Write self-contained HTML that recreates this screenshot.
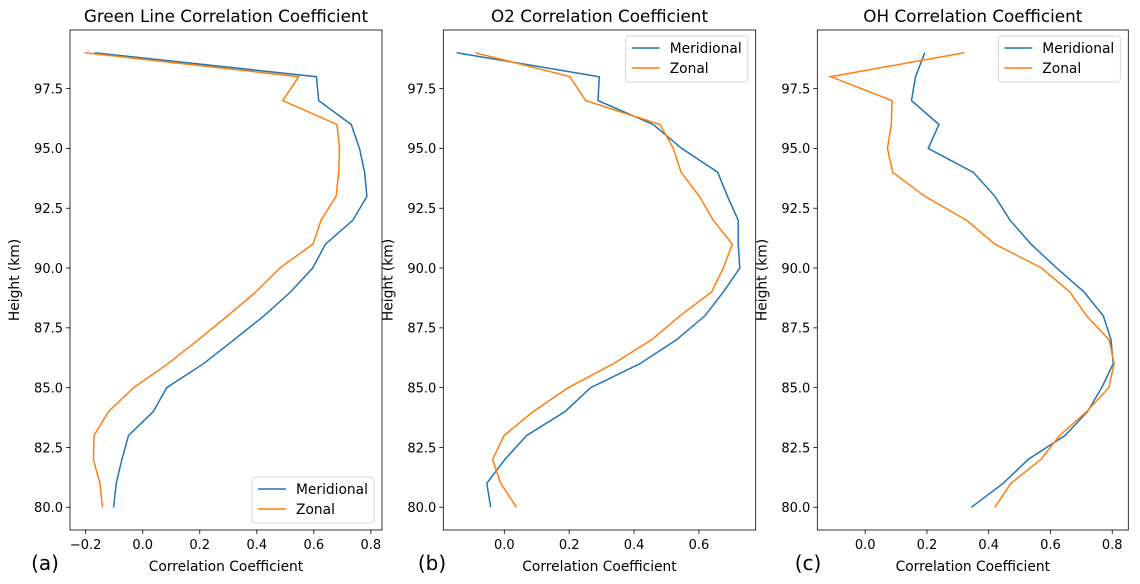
<!DOCTYPE html>
<html><head><meta charset="utf-8"><style>
body{margin:0;background:#fff}
svg{display:block;font-family:"DejaVu Sans","Liberation Sans",sans-serif}
</style></head><body>
<svg id="chart" width="1140" height="584"></svg>
<script>
const heights=[99,98,97,96,95,94,93,92,91,90,89,88,87,86,85,84,83,82,81,80];
const greenMerid=[-0.169,0.609,0.617,0.731,0.760,0.778,0.786,0.737,0.641,0.596,0.518,0.425,0.320,0.213,0.084,0.037,-0.050,-0.073,-0.093,-0.102];
const greenZonal=[-0.203,0.547,0.491,0.681,0.690,0.687,0.678,0.625,0.597,0.481,0.396,0.297,0.195,0.088,-0.032,-0.120,-0.171,-0.173,-0.150,-0.141];
const o2Merid=[-0.147,0.293,0.289,0.459,0.547,0.658,0.688,0.721,0.721,0.726,0.675,0.618,0.531,0.418,0.266,0.187,0.069,0.002,-0.054,-0.042];
const o2Zonal=[-0.090,0.202,0.251,0.480,0.521,0.545,0.601,0.644,0.703,0.675,0.639,0.541,0.454,0.336,0.197,0.089,-0.001,-0.036,-0.011,0.038];
const ohMerid=[0.193,0.163,0.150,0.239,0.204,0.350,0.420,0.469,0.537,0.620,0.709,0.771,0.796,0.803,0.766,0.720,0.647,0.528,0.447,0.344];
const ohZonal=[0.321,-0.112,0.087,0.085,0.072,0.089,0.193,0.328,0.420,0.571,0.663,0.717,0.790,0.806,0.789,0.717,0.630,0.569,0.472,0.420];
const yTicks=[80.0,82.5,85.0,87.5,90.0,92.5,95.0,97.5];
const xTicksA=[-0.2,0.0,0.2,0.4,0.6,0.8];
const xTicksB=[0.0,0.2,0.4,0.6];
const xTicksC=[0.0,0.2,0.4,0.6,0.8];
const titles=["Green Line Correlation Coefficient","O2 Correlation Coefficient","OH Correlation Coefficient"];
const tags=["(a)","(b)","(c)"];

const NS="http://www.w3.org/2000/svg";
const svg=document.getElementById('chart');
function mk(tag,attrs,parent,text){const e=document.createElementNS(NS,tag);for(const k in attrs)e.setAttribute(k,attrs[k]);if(text!==undefined)e.textContent=text;(parent||svg).appendChild(e);return e;}

const panels=[
 {x0:70,x1:382,xmin:-0.255,xmax:0.839,ticks:xTicksA,m:greenMerid,z:greenZonal,leg:'br',tagX:45},
 {x0:443.3,x1:755.7,xmin:-0.188,xmax:0.775,ticks:xTicksB,m:o2Merid,z:o2Zonal,leg:'tr',tagX:432},
 {x0:817.3,x1:1128.3,xmin:-0.155,xmax:0.852,ticks:xTicksC,m:ohMerid,z:ohZonal,leg:'tr',tagX:808}
];
const Y0=30,Y1=530,YMIN=79.05,YMAX=99.95;
panels.forEach((p,i)=>{
 const g=mk('g',{});
 
 
 const sx=v=>p.x0+(v-p.xmin)/(p.xmax-p.xmin)*(p.x1-p.x0);
 const sy=v=>Y1-(v-YMIN)/(YMAX-YMIN)*(Y1-Y0);
 const t=mk('text',{x:(p.x0+p.x1)/2,y:22,'text-anchor':'middle','font-size':16.8},g,titles[i]);
 
 
 yTicks.forEach(v=>{
  mk('line',{x1:p.x0-4,x2:p.x0,y1:sy(v),y2:sy(v),stroke:'#000','stroke-width':0.8},g);
  const l=mk('text',{x:p.x0-7,y:sy(v)+4.8,'text-anchor':'end','font-size':13},g,v.toFixed(1));
  
  
 });
 p.ticks.forEach(v=>{
  mk('line',{x1:sx(v),x2:sx(v),y1:Y1,y2:Y1+4,stroke:'#000','stroke-width':0.8},g);
  const l=mk('text',{x:sx(v),y:Y1+19,'text-anchor':'middle','font-size':13},g,(v<0?'\u2212':'')+Math.abs(v).toFixed(1));
  
  
 });
 const yl=mk('text',{x:0,y:0,transform:`translate(${p.x0-51},${(Y0+Y1)/2}) rotate(-90)`,'text-anchor':'middle','font-size':13.8},g,'Height (km)');
 
 
 const xl=mk('text',{x:(p.x0+p.x1)/2,y:571,'text-anchor':'middle','font-size':13.8},g,'Correlation Coefficient');
 
 
 const tg=mk('text',{x:p.tagX,y:570,'text-anchor':'middle','font-size':20},g,tags[i]);
 
 
 [[p.m,'#1f77b4','meridional-line'],[p.z,'#ff7f0e','zonal-line']].forEach(([arr,c,n])=>{
  const pts=arr.map((v,k)=>sx(v).toFixed(1)+','+sy(heights[k]).toFixed(1)).join(' ');
  const pl=mk('polyline',{points:pts,fill:'none',stroke:c,'stroke-width':1.5},g);
  
  
 });
 mk('rect',{x:p.x0,y:Y0,width:p.x1-p.x0,height:Y1-Y0,fill:'none',stroke:'#000','stroke-width':0.8},g);
 const lx=p.x1-130, ly=p.leg==='br'?477:36;
 const lg=mk('g',{},g);
 
 
 mk('rect',{x:lx,y:ly,width:122,height:46,rx:3,fill:'#fff',stroke:'#ccc','stroke-width':0.8},lg);
 [['Meridional','#1f77b4'],['Zonal','#ff7f0e']].forEach(([n,c],k)=>{
  mk('line',{x1:lx+6,x2:lx+34,y1:ly+12+k*20,y2:ly+12+k*20,stroke:c,'stroke-width':1.5},lg);
  const e=mk('text',{x:lx+44,y:ly+17+k*20,'font-size':13.8},lg,n);
  
  
 });
});
</script>
</body></html>
